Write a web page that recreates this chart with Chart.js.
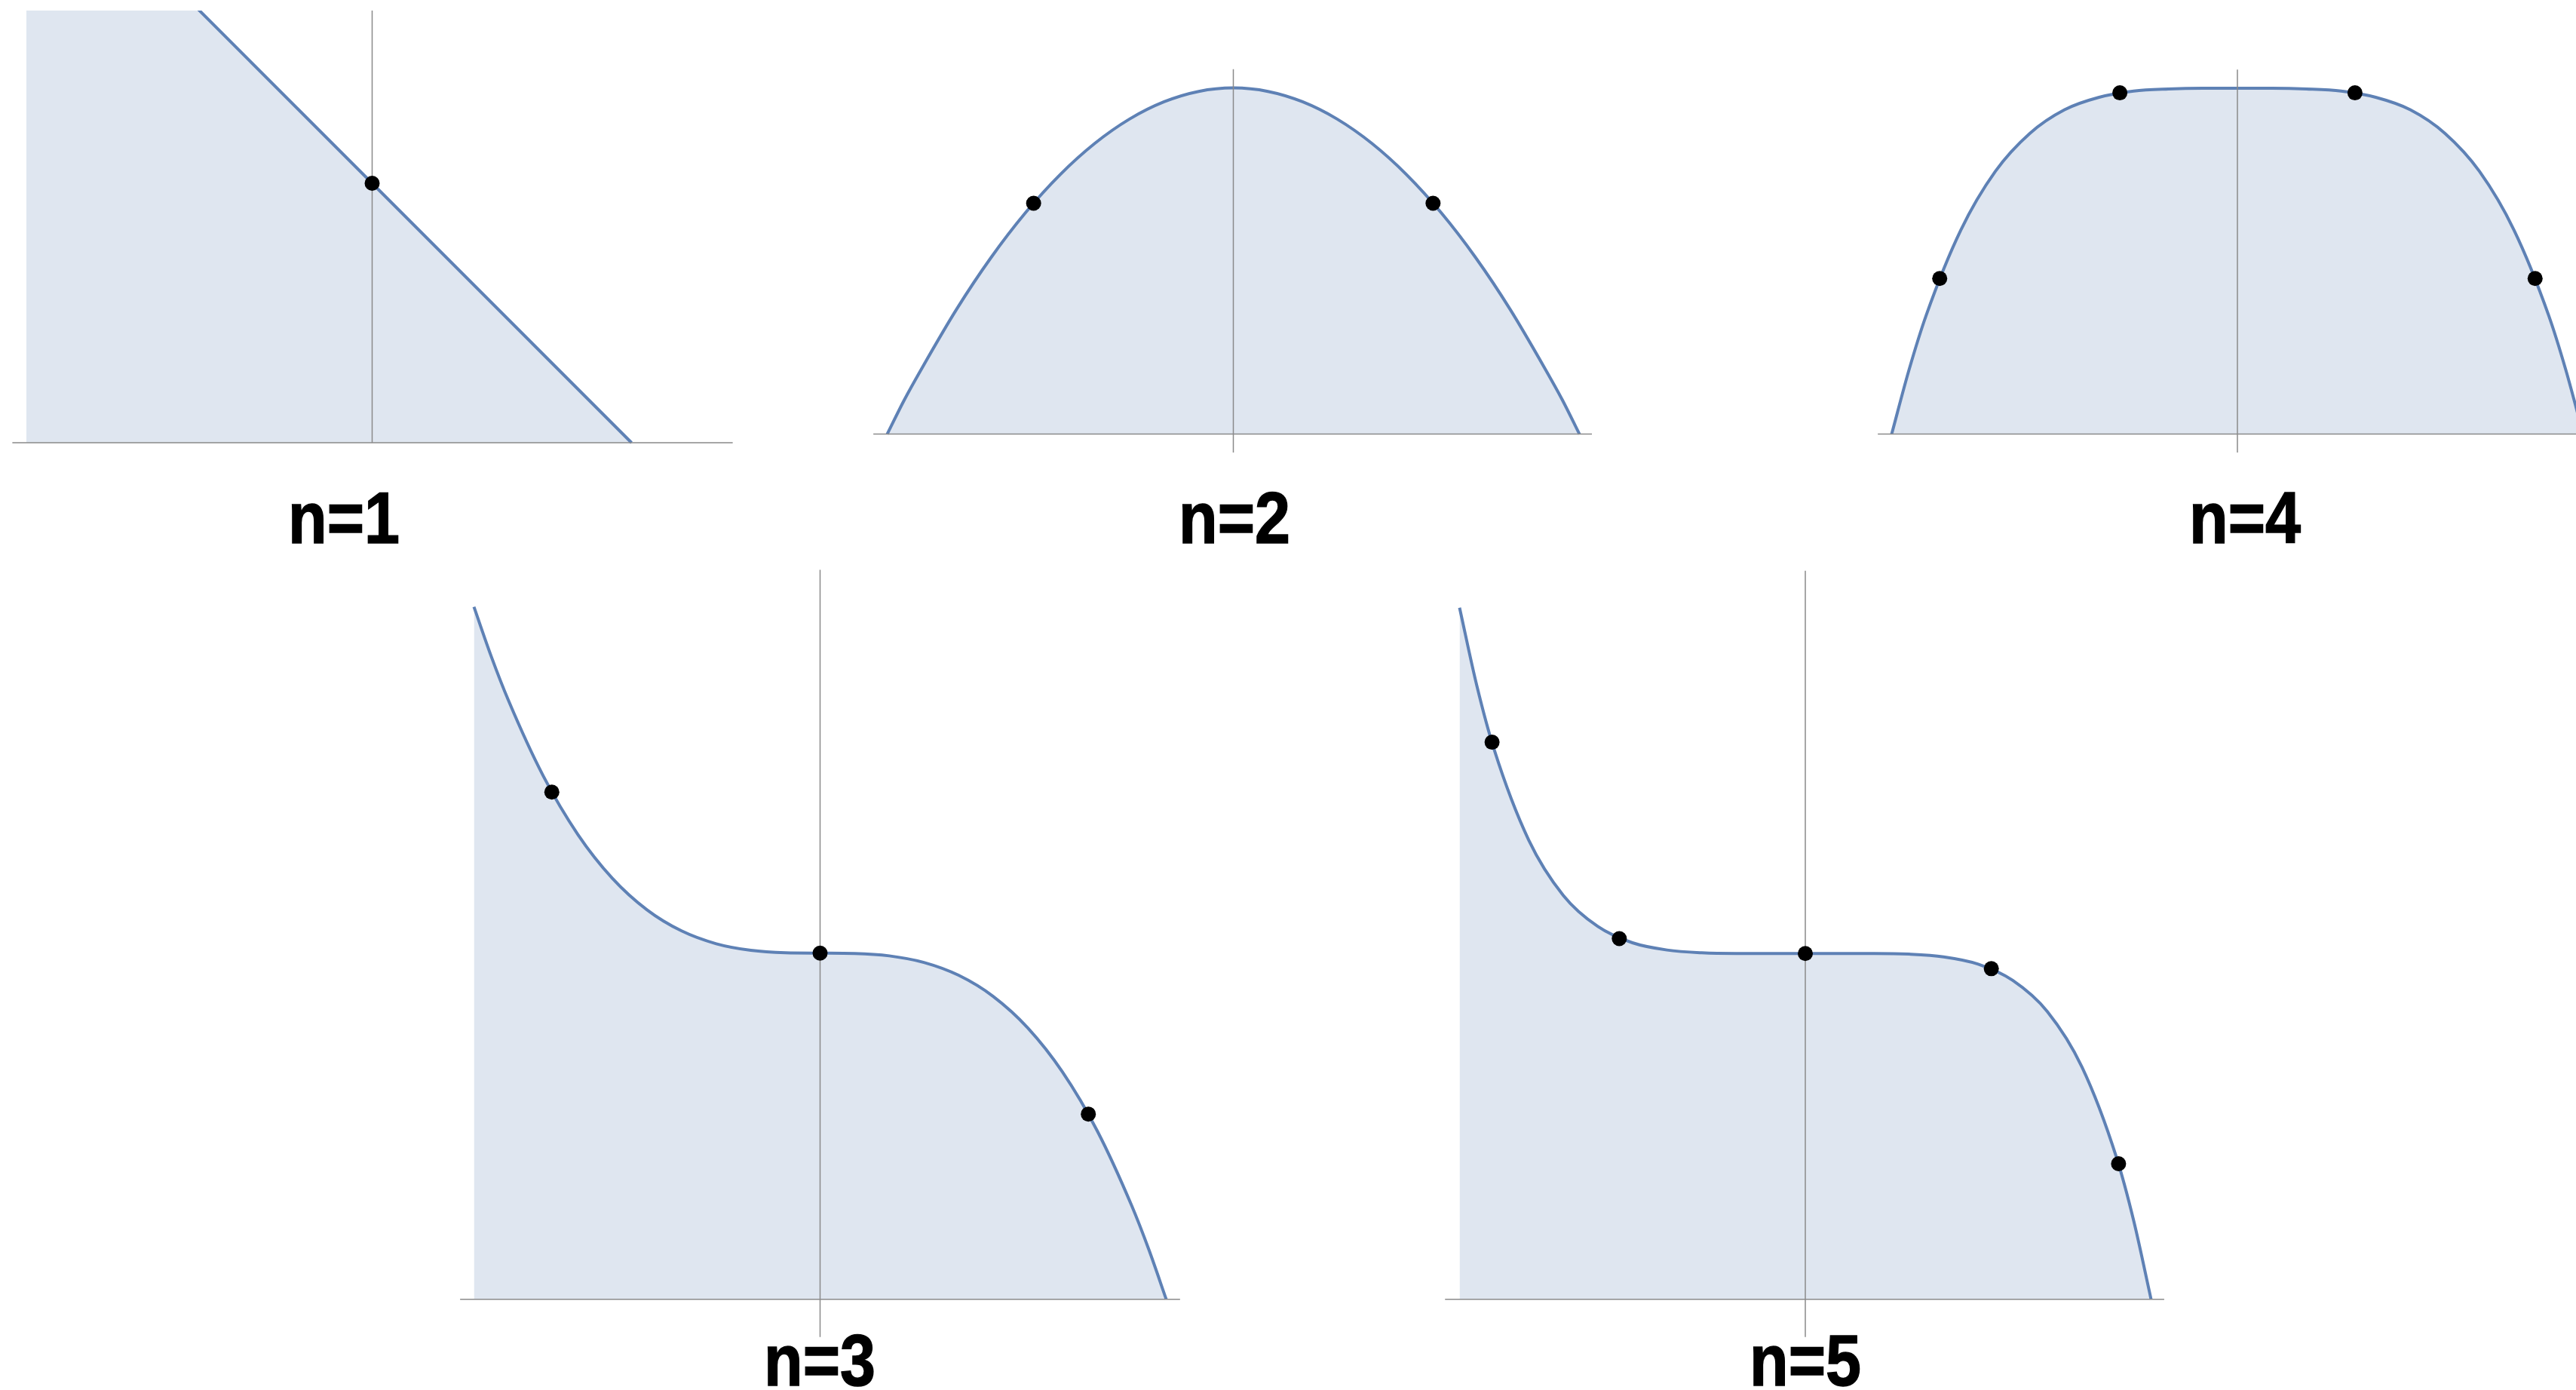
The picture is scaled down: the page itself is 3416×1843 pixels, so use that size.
<!DOCTYPE html>
<html>
<head>
<meta charset="utf-8">
<title>n-point nodes</title>
<script src="https://cdn.jsdelivr.net/npm/chart.js@4.4.1/dist/chart.umd.min.js"></script>
<style>
  html, body { margin: 0; padding: 0; background: #fff; overflow: hidden; }
  body { width: 3416px; height: 1843px; position: relative; }
  canvas { position: absolute; }
  .lbl {
    position: absolute;
    font-family: "Liberation Sans", Arial, sans-serif;
    font-weight: bold;
    font-size: 96px;
    line-height: 96px;
    color: #000;
    -webkit-text-stroke: 1.5px #000;
    white-space: nowrap;
    transform-origin: 50% 50%;
  }
</style>
</head>
<body>
<script>
// values (x from -1 to 1)
const gridX = [-1, -0.95, -0.9, -0.8, -0.7, -0.6, -0.5, -0.4, -0.3, -0.2, -0.1, 0,
               0.1, 0.2, 0.3, 0.4, 0.5, 0.6, 0.7, 0.8, 0.9, 0.95, 1];

const n1X = [-1.333, 1];
const n1Y = [2.333, 0];
const n2Y = [0, 0.1, 0.19, 0.36, 0.51, 0.64, 0.75, 0.84, 0.91, 0.96, 0.99, 1,
             0.99, 0.96, 0.91, 0.84, 0.75, 0.64, 0.51, 0.36, 0.19, 0.1, 0];
const n3Y = [2, 1.857, 1.729, 1.512, 1.343, 1.216, 1.125, 1.064, 1.027, 1.008, 1.001, 1,
             0.999, 0.992, 0.973, 0.936, 0.875, 0.784, 0.657, 0.488, 0.271, 0.143, 0];
const n4Y = [0, 0.185, 0.344, 0.59, 0.76, 0.87, 0.938, 0.974, 0.992, 0.998, 1, 1,
             1, 0.998, 0.992, 0.974, 0.938, 0.87, 0.76, 0.59, 0.344, 0.185, 0];
const n5Y = [2, 1.774, 1.59, 1.328, 1.168, 1.078, 1.031, 1.01, 1.002, 1, 1, 1,
             1, 1, 0.998, 0.99, 0.969, 0.922, 0.832, 0.672, 0.41, 0.226, 0];

// black dots
const n1DotX = [0];
const n1DotY = [1];
const n2DotX = [-0.577, 0.577];
const n2DotY = [0.667, 0.667];
const n3DotX = [-0.775, 0, 0.775];
const n3DotY = [1.465, 1, 0.535];
const n4DotX = [-0.861, -0.34, 0.34, 0.861];
const n4DotY = [0.45, 0.987, 0.987, 0.45];
const n5DotX = [-0.906, -0.538, 0, 0.538, 0.906];
const n5DotY = [1.611, 1.043, 1, 0.956, 0.392];

// extent of the drawn axes
const n1AxisX = [-1.387, 1.39],  n1AxisY = [0, 1.667];
const n2AxisX = [-1.04, 1.036],  n2AxisY = [-0.053, 1.054];
const n3AxisX = [-1.04, 1.04],   n3AxisY = [-0.109, 2.107];
const n4AxisX = [-1.04, 1.04],   n4AxisY = [-0.053, 1.054];
const n5AxisX = [-1.042, 1.038], n5AxisY = [-0.109, 2.107];

const labels = ["n=1", "n=2", "n=3", "n=4", "n=5"];

// page placement of each panel: canvas box, pixel of origin, pixels per unit
const panels = [
  { lbl: 0, xs: n1X, ys: n1Y, dx: n1DotX, dy: n1DotY, ax: n1AxisX, ay: n1AxisY,
    left: 8, top: 14, w: 975, h: 584, ox: 493.5, oy: 587, unit: 344, lx: 456, base: 720 },
  { lbl: 1, xs: gridX, ys: n2Y, dx: n2DotX, dy: n2DotY, ax: n2AxisX, ay: n2AxisY,
    left: 1148, top: 84, w: 975, h: 524, ox: 1635.5, oy: 575.6, unit: 459, lx: 1637, base: 720 },
  { lbl: 3, xs: gridX, ys: n4Y, dx: n4DotX, dy: n4DotY, ax: n4AxisX, ay: n4AxisY,
    left: 2480, top: 84, w: 936, h: 524, ox: 2967, oy: 575.6, unit: 458.5, lx: 2977, base: 720 },
  { lbl: 2, xs: gridX, ys: n3Y, dx: n3DotX, dy: n3DotY, ax: n3AxisX, ay: n3AxisY,
    left: 600, top: 745, w: 975, h: 1035, ox: 1087.5, oy: 1722.7, unit: 459, lx: 1087, base: 1837 },
  { lbl: 4, xs: gridX, ys: n5Y, dx: n5DotX, dy: n5DotY, ax: n5AxisX, ay: n5AxisY,
    left: 1905, top: 745, w: 975, h: 1035, ox: 2394, oy: 1722.7, unit: 458.5, lx: 2394, base: 1837 },
];

const zip = (xs, ys) => xs.map((x, i) => ({ x, y: ys[i] }));
const axisColor = "#8a8a8a";

panels.forEach((p) => {
  const canvas = document.createElement("canvas");
  canvas.width = p.w;
  canvas.height = p.h;
  canvas.style.left = p.left + "px";
  canvas.style.top = p.top + "px";
  document.body.appendChild(canvas);

  new Chart(canvas.getContext("2d"), {
    type: "line",
    data: {
      datasets: [
        {
          data: zip(p.dx, p.dy),
          showLine: false,
          pointRadius: 10,
          pointBackgroundColor: "#000",
          pointBorderWidth: 0,
          order: 0,
        },
        {
          data: [{ x: p.ax[0], y: 0 }, { x: p.ax[1], y: 0 }],
          borderColor: axisColor,
          borderWidth: 1.5,
          pointRadius: 0,
          fill: false,
          order: 1,
        },
        {
          data: [{ x: 0, y: p.ay[0] }, { x: 0, y: p.ay[1] }],
          borderColor: axisColor,
          borderWidth: 1.5,
          pointRadius: 0,
          fill: false,
          order: 1,
        },
        {
          data: zip(p.xs, p.ys),
          borderColor: "#5e81b5",
          backgroundColor: "#dfe6f0",
          borderWidth: 4,
          pointRadius: 0,
          fill: "origin",
          cubicInterpolationMode: "monotone",
          order: 2,
        },
      ],
    },
    options: {
      responsive: false,
      animation: false,
      devicePixelRatio: 1,
      events: [],
      layout: { padding: 0, autoPadding: false },
      scales: {
        x: {
          type: "linear",
          display: false,
          min: (p.left - p.ox) / p.unit,
          max: (p.left + p.w - p.ox) / p.unit,
        },
        y: {
          type: "linear",
          display: false,
          min: (p.oy - p.top - p.h) / p.unit,
          max: (p.oy - p.top) / p.unit,
        },
      },
      plugins: {
        legend: { display: false },
        tooltip: { enabled: false },
      },
    },
  });

  const div = document.createElement("div");
  div.className = "lbl";
  div.textContent = labels[p.lbl];
  div.style.left = p.lx + "px";
  div.style.top = (p.base - 81) + "px";
  div.style.transform = "translateX(-50%) scaleX(0.88)";
  document.body.appendChild(div);
});
</script>
</body>
</html>
